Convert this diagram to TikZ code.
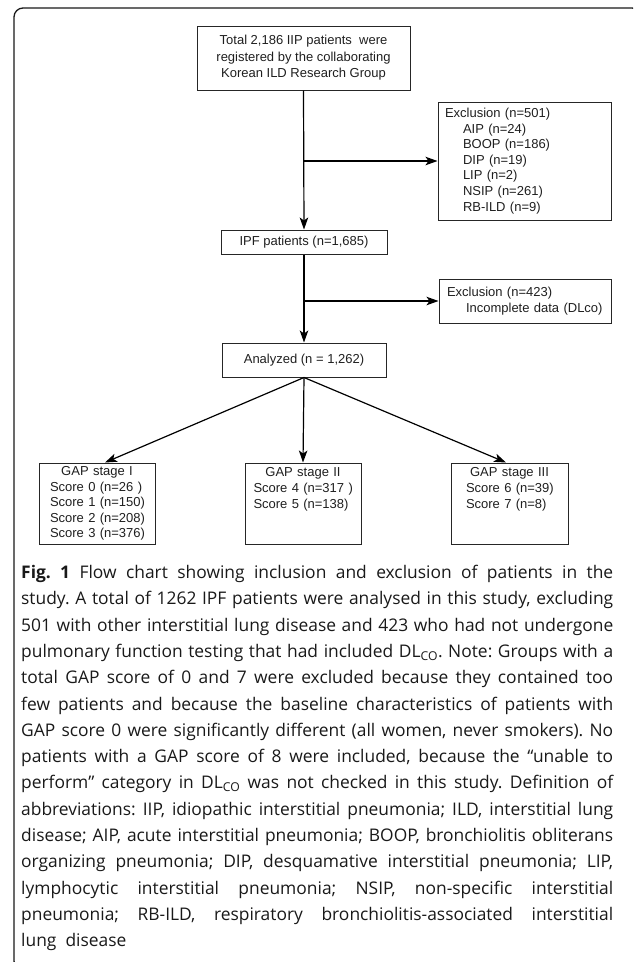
\documentclass[tikz,border=0pt]{standalone}
\usepackage{fontspec}
\setmainfont{Liberation Sans}
\newfontfamily\capfont{Open Sans}
\usetikzlibrary{arrows.meta}
\newcommand\capline[1]{\makebox[592pt][s]{\spaceskip=0pt\xspaceskip=0pt\frenchspacing #1}}
\begin{document}
\begin{tikzpicture}[x=1pt,y=-1pt,
  box/.style={draw=black!85, line width=1pt, inner sep=0pt, text=black!88,
    font=\fontsize{13}{15.6}\selectfont},
  gapbox/.style={box, text width=116pt, minimum height=81pt, align=left},
  arr/.style={draw=black, line width=1.2pt, -{Stealth[length=12pt,width=8.5pt,inset=3pt]}}]
\useasboundingbox (0,0) rectangle (633,962);
\begin{scope}
  \clip (0,0) rectangle (633,962);
  \draw[line width=1.3pt, rounded corners=9pt, black!90] (14,8) rectangle (641,970);
\end{scope}

\node[box, minimum width=213pt, minimum height=64pt, align=center,
  font=\fontsize{13}{16.5}\selectfont] (top) at (303.5,58)
  {Total 2,186 IIP patients\ \ were\\registered by the collaborating\\Korean ILD Research Group};

\node[box, minimum height=118pt, text width=159pt, inner xsep=7pt, align=left] (ex1) at (524.5,161)
  {Exclusion (n=501)\\
   \hspace*{18pt}AIP (n=24)\\
   \hspace*{18pt}BOOP (n=186)\\
   \hspace*{18pt}DIP (n=19)\\
   \hspace*{18pt}LIP (n=2)\\
   \hspace*{18pt}NSIP (n=261)\\
   \hspace*{18pt}RB-ILD (n=9)};

\node[box, minimum width=166pt, minimum height=24pt] (ipf) at (304,242) {IPF patients (n=1,685)};

\node[box, minimum height=44pt, text width=156pt, inner xsep=8pt, align=left] (ex2) at (525,301)
  {Exclusion (n=423)\\\hspace*{19pt}Incomplete data (DLco)};

\node[box, minimum width=164pt, minimum height=34pt] (ana) at (304,360) {Analyzed (n = 1,262)};

\node[gapbox] (g1) at (97,503.5)
  {\makebox[116pt]{GAP stage I}\\
   \hspace*{11pt}Score 0 (n=26 )\\
   \hspace*{11pt}Score 1 (n=150)\\
   \hspace*{11pt}Score 2 (n=208)\\
   \hspace*{11pt}Score 3 (n=376)};
\node[gapbox] (g2) at (303,503.5)
  {\makebox[116pt]{GAP stage II}\\
   \hspace*{8.5pt}Score 4 (n=317 )\\
   \hspace*{8.5pt}Score 5 (n=138)\\
   \mbox{}\\ \mbox{}};
\node[gapbox, text width=117pt] (g3) at (509.5,503.5)
  {\makebox[117pt]{GAP stage III}\\
   \hspace*{15pt}Score 6 (n=39)\\
   \hspace*{15pt}Score 7 (n=8)\\
   \mbox{}\\ \mbox{}};

\draw[arr] (top.south) -- (ipf.north);
\draw[arr] (top.south |- ex1.west) -- (ex1.west);
\draw[arr] (ipf.south) -- (ana.north);
\draw[arr] (ipf.south |- ex2.west) -- (ex2.west);
\draw[arr] (ana.south) -- ([xshift=8pt]g1.north);
\draw[arr] (ana.south) -- (g2.north);
\draw[arr] (ana.south) -- ([xshift=-3.5pt]g3.north);

\node[anchor=north west, inner sep=0pt, text width=592pt, align=left, text=black!90,
  font=\capfont\fontsize{17.4}{26.3}\selectfont] (cap) at (21,565)
  {\capline{\textbf{Fig. 1} Flow chart showing inclusion and exclusion of patients in the}\\
   \capline{study. A total of 1262 IPF patients were analysed in this study, excluding}\\
   \capline{501 with other interstitial lung disease and 423 who had not undergone}\\
   \capline{pulmonary function testing that had included DL\textsubscript{CO}. Note: Groups with a}\\
   \capline{total GAP score of 0 and 7 were excluded because they contained too}\\
   \capline{few patients and because the baseline characteristics of patients with}\\
   \capline{GAP score 0 were significantly different (all women, never smokers). No}\\
   \capline{patients with a GAP score of 8 were included, because the “unable to}\\
   \capline{perform” category in DL\textsubscript{CO} was not checked in this study. Definition of}\\
   \capline{abbreviations: IIP, idiopathic interstitial pneumonia; ILD, interstitial lung}\\
   \capline{disease; AIP, acute interstitial pneumonia; BOOP, bronchiolitis obliterans}\\
   \capline{organizing pneumonia; DIP, desquamative interstitial pneumonia; LIP,}\\
   \capline{lymphocytic interstitial pneumonia; NSIP, non-specific interstitial}\\
   \capline{pneumonia; RB-ILD, respiratory bronchiolitis-associated interstitial}\\
   {\spaceskip=0pt\frenchspacing lung\ \ disease}};
\end{tikzpicture}
\end{document}
